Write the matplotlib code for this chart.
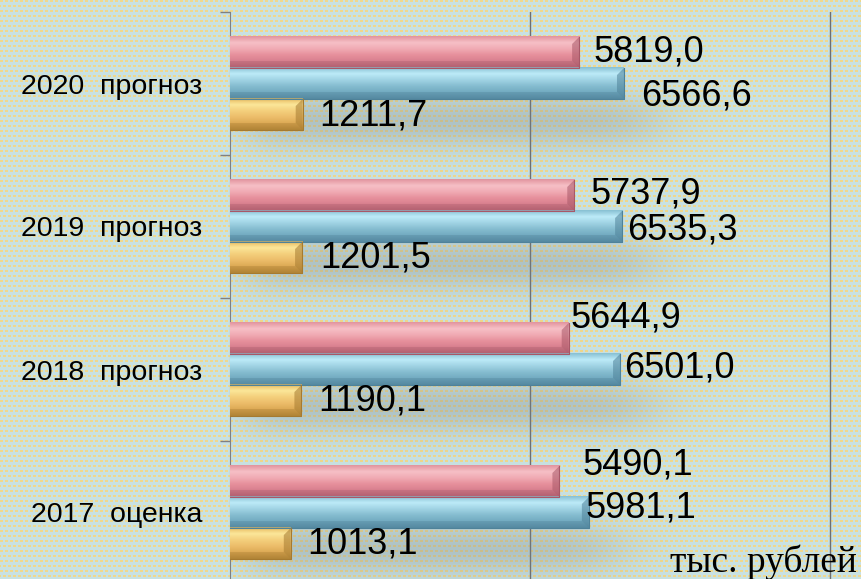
import numpy as np
import matplotlib
matplotlib.use("Agg")
import matplotlib.pyplot as plt
from matplotlib.colors import LinearSegmentedColormap
from matplotlib.patches import Polygon

# данные, тыс. рублей
categories = ['2017  оценка', '2018  прогноз', '2019  прогноз', '2020  прогноз']
pink_vals = [5490.1, 5644.9, 5737.9, 5819.0]
blue_vals = [5981.1, 6501.0, 6535.3, 6566.6]
gold_vals = [1013.1, 1190.1, 1201.5, 1211.7]

# сдвиги подписей (пиксели: вправо, вверх) — только раскладка
pink_off = [(23, 16), (2, 20), (16, 1), (14, 0)]
blue_off = [(-3, 4), (4, 1), (5, -4), (17, -12)]
gold_off = [(16, 0), (17, 0), (18, 0), (17, -1)]

W, H = 862, 579
fig = plt.figure(figsize=(W / 100, H / 100), dpi=100)

# фон: голубой с жёлтыми точками
bg = fig.add_axes([0, 0, 1, 1], zorder=-10)
yy, xx = np.mgrid[0:H, 0:W]
base = np.array([200, 225, 226]) / 255
dot = np.array([240, 216, 140]) / 255
shift = (yy // 5) % 2 * 2
mask = (((xx + shift) % 5) < 3) & ((yy % 5) < 2)
img = np.where(mask[..., None], dot, base)
bg.imshow(img, aspect='auto', interpolation='bilinear')
bg.axis('off')

ax = fig.add_axes([230 / W, -5 / H, 630 / W, 572 / H])
ax.set_facecolor('none')
ax.set_xlim(0, 10500)
ax.set_ylim(-0.5, 3.5)

h = 0.217
y = np.arange(len(categories))


def grad_cmap(name, cols):
    return LinearSegmentedColormap.from_list(name, cols)


series = [
    (pink_vals, h, pink_off,
     grad_cmap('p', ['#b86474', '#d77f8e', '#e68f9b', '#f0aab3', '#f6c0c6', '#e2949f']),
     '#a85868'),
    (blue_vals, 0, blue_off,
     grad_cmap('b', ['#5a8ea6', '#72aac0', '#85bccf', '#a0d3e4', '#bdebf8', '#88c0d3']),
     '#4f8299'),
    (gold_vals, -h, gold_off,
     grad_cmap('g', ['#b88a3a', '#dca954', '#ecbd6a', '#f4cf7c', '#fbe79a', '#e8b85c']),
     '#a57a30'),
]

# мягкая тень под группами
sx = np.linspace(0, 10500, 400)
sy = np.linspace(-0.5, 3.5, 400)
SX, SY = np.meshgrid(sx, sy)


def sig(t):
    return 1 / (1 + np.exp(-t))


alpha = np.zeros_like(SX)
for i in range(len(categories)):
    x1 = blue_vals[i] * 1.07
    y0, y1 = y[i] - 1.7 * h, y[i] - 0.7 * h
    a = sig((SX - 300) / 250) * sig((x1 - SX) / 380) * sig((SY - y0) / 0.08) * sig((y1 - SY) / 0.08)
    alpha = np.maximum(alpha, a)
shadow = np.zeros(SX.shape + (4,))
shadow[..., :3] = np.array([120, 130, 135]) / 255
shadow[..., 3] = alpha * 0.5
ax.imshow(shadow, extent=[0, 10500, -0.5, 3.5], origin='lower', aspect='auto',
          interpolation='bilinear', zorder=1)

px = 10500 / 630  # единиц данных на пиксель
py = 4 / 572
for vals, dy, offs, cmap, dark in series:
    for i, v in enumerate(vals):
        b0, b1 = y[i] + dy - h / 2, y[i] + dy + h / 2
        grad = np.linspace(0, 1, 64).reshape(-1, 1)
        ax.imshow(grad, cmap=cmap, extent=[0, v, b0, b1], origin='lower',
                  aspect='auto', interpolation='bilinear', zorder=3)
        # скос на торце
        bw = 7 * px
        bh = 7 * py
        ax.add_patch(Polygon([[v - bw, b0 + bh], [v, b0], [v, b1], [v - bw, b1 - bh]],
                             closed=True, fc=dark, ec='none', alpha=0.55, zorder=4))
        ax.add_patch(Polygon([[0, b0], [v, b0], [v - bw, b0 + bh], [0, b0 + bh]],
                             closed=True, fc=dark, ec='none', alpha=0.35, zorder=4))
        ax.plot([0, v, v], [b0, b0, b1], color=dark, lw=0.8, zorder=5)
        ax.annotate(f'{v:.1f}'.replace('.', ','), xy=(v, y[i] + dy),
                    xytext=offs[i], textcoords='offset pixels',
                    ha='left', va='center', fontsize=26,
                    family='Liberation Sans', color='black', zorder=6)

ax.set_xticks([5000, 10000])
ax.xaxis.grid(True, color='#6f6f6f', lw=1)
ax.set_axisbelow(True)
ax.tick_params(axis='x', length=0, labelbottom=False)

ax.set_yticks([-0.5, 0.5, 1.5, 2.5, 3.5])
ax.set_yticklabels([])
ax.set_yticks(y, minor=True)
ax.set_yticklabels(categories, minor=True, fontsize=20.5, family='Liberation Sans')
ax.tick_params(axis='y', which='major', length=7, width=1, color='#808080')
ax.tick_params(axis='y', which='minor', length=0, pad=20)

for s in ['top', 'right', 'bottom']:
    ax.spines[s].set_visible(False)
ax.spines['left'].set_color('#808080')

fig.text(857 / W, 1 - 562 / H, 'тыс. рублей', ha='right', va='center',
         fontsize=27, family='Liberation Serif')

fig.savefig('out.png', dpi=100)
